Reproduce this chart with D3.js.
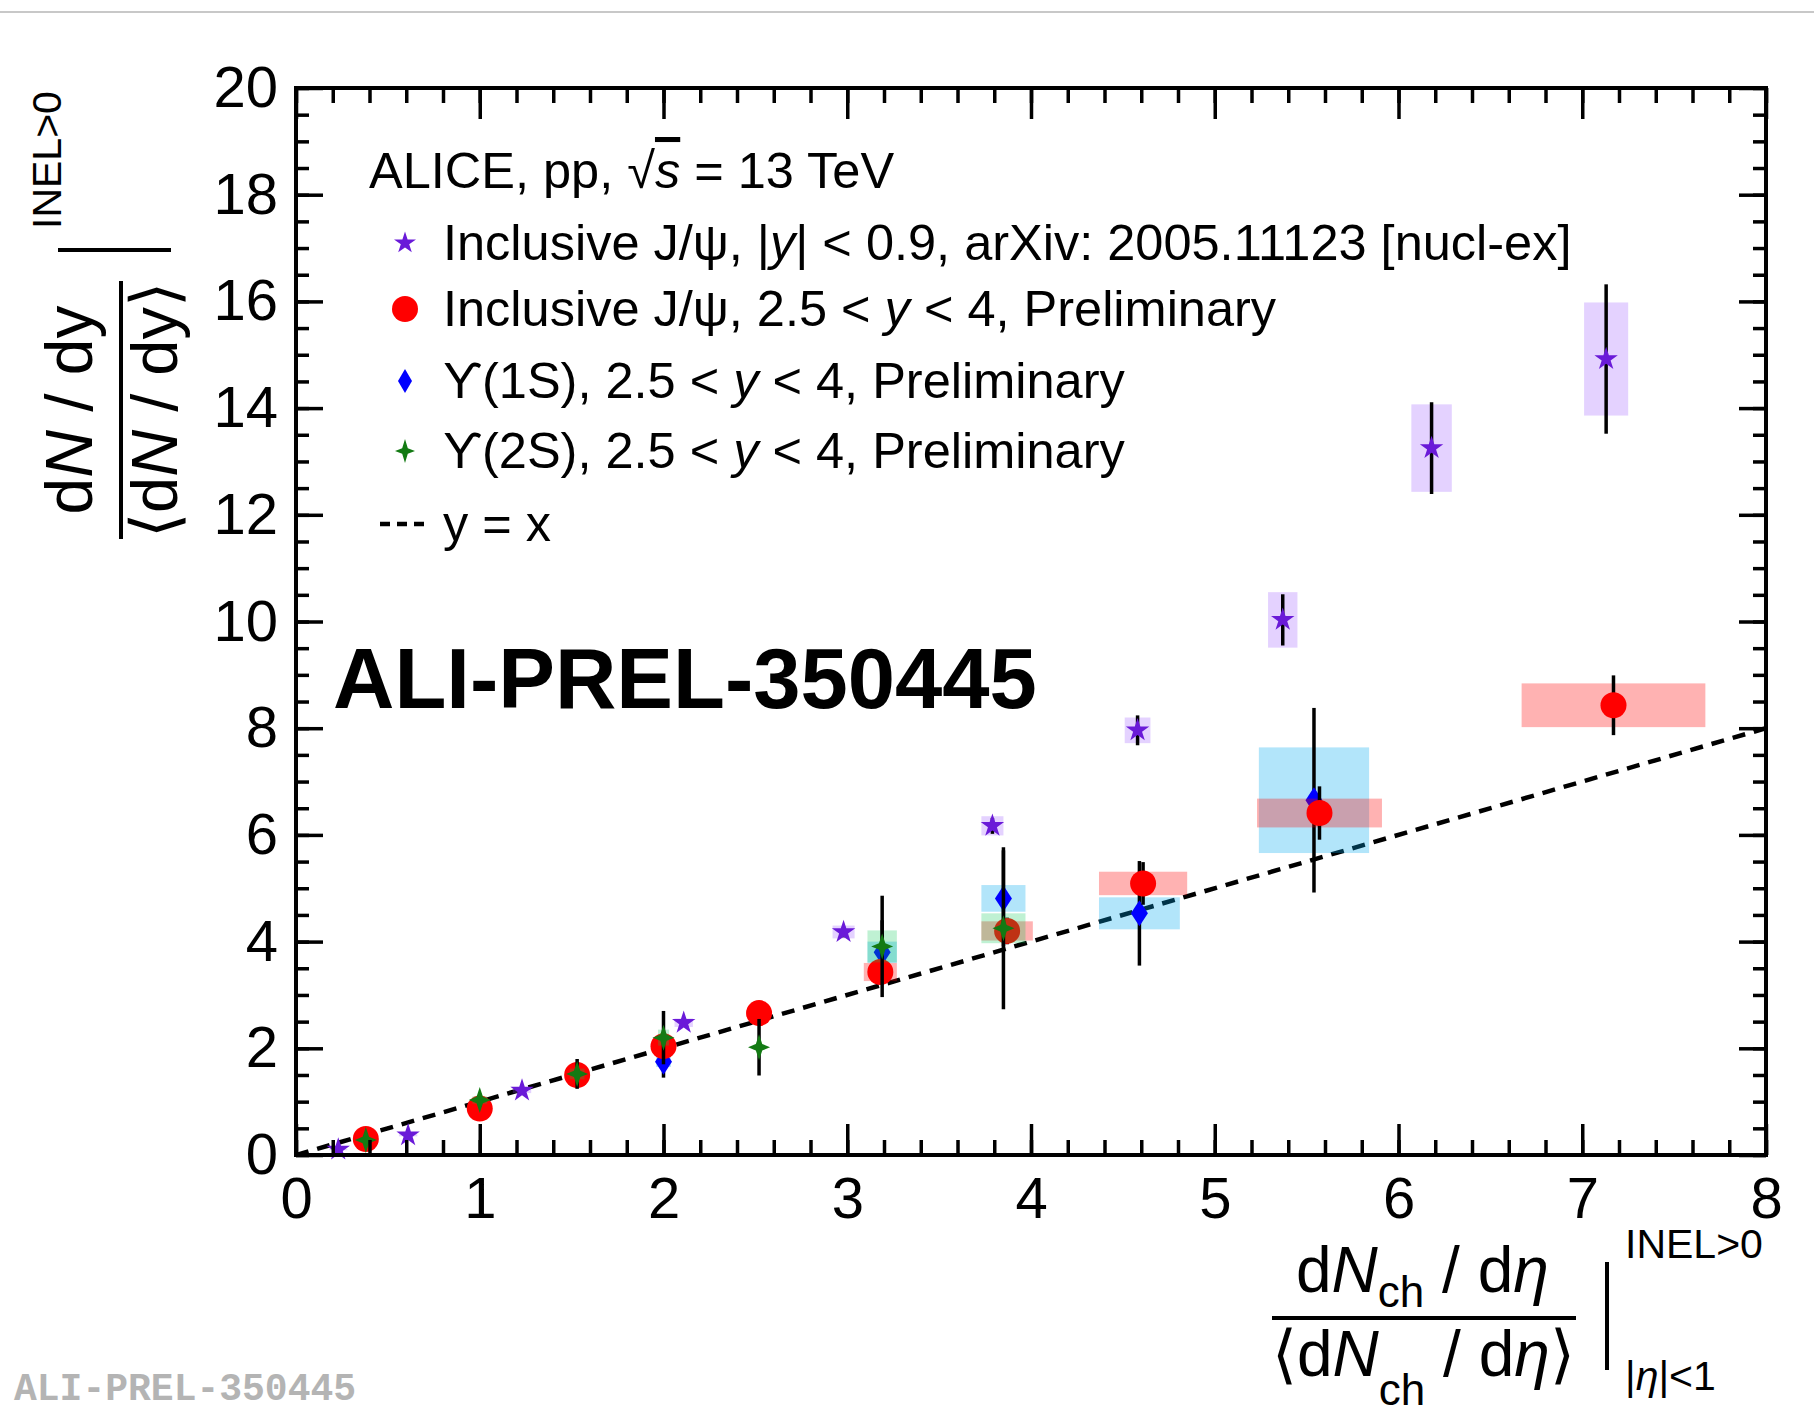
<!DOCTYPE html>
<html>
<head>
<meta charset="utf-8">
<script src="https://cdn.jsdelivr.net/npm/d3@7"></script>
<style>
  html, body { margin: 0; padding: 0; background: #ffffff; }
  svg { display: block; font-family: "Liberation Sans", Arial, Helvetica, sans-serif; }
</style>
</head>
<body>
<svg id="chart" width="1814" height="1415"></svg>
<script>
// ---- Axis ticks ----
const xMajorTicks = [0, 1, 2, 3, 4, 5, 6, 7, 8];
const yMajorTicks = [0, 2, 4, 6, 8, 10, 12, 14, 16, 18, 20];

// ---- Inclusive J/psi, |y| < 0.9 (published) ----
const jpsiMidX    = [0.23, 0.61, 1.23, 2.11, 2.98, 3.79, 4.58, 5.37, 6.18, 7.13];
const jpsiMidY    = [0.10, 0.37, 1.21, 2.48, 4.18, 6.17, 7.96, 10.03, 13.25, 14.92];
const jpsiMidStat = [0.02, 0.03, 0.05, 0.08, 0.10, 0.15, 0.28, 0.48, 0.86, 1.40];
const jpsiMidSysW = [0.05, 0.05, 0.05, 0.05, 0.06, 0.06, 0.07, 0.08, 0.11, 0.12];
const jpsiMidSysH = [0.01, 0.02, 0.05, 0.08, 0.12, 0.18, 0.24, 0.52, 0.82, 1.06];

// ---- Inclusive J/psi, 2.5 < y < 4 (preliminary) ----
const jpsiFwdX    = [0.38, 1.00, 1.53, 2.00, 2.52, 3.18, 3.87, 4.61, 5.57, 7.17];
const jpsiFwdY    = [0.30, 0.87, 1.50, 2.04, 2.66, 3.43, 4.20, 5.09, 6.41, 8.43];
const jpsiFwdStat = [0.03, 0.05, 0.08, 0.10, 0.15, 0.20, 0.25, 0.40, 0.50, 0.56];
const jpsiFwdSysW = [0.03, 0.05, 0.06, 0.06, 0.06, 0.09, 0.14, 0.24, 0.34, 0.50];
const jpsiFwdSysH = [0.03, 0.06, 0.08, 0.10, 0.08, 0.17, 0.18, 0.22, 0.27, 0.41];

// ---- Upsilon(1S), 2.5 < y < 4 (preliminary) ----
const ups1sX    = [2.00, 3.19, 3.85, 4.59, 5.54];
const ups1sY    = [1.75, 3.80, 4.81, 4.53, 6.65];
const ups1sStat = [0.30, 0.60, 0.90, 0.98, 1.73];
const ups1sSysW = [0.04, 0.08, 0.12, 0.22, 0.30];
const ups1sSysH = [0.10, 0.20, 0.25, 0.30, 0.99];

// ---- Upsilon(2S), 2.5 < y < 4 (preliminary) ----
const ups2sX    = [0.38, 1.00, 1.53, 2.00, 2.52, 3.19, 3.85];
const ups2sY    = [0.28, 1.03, 1.52, 2.20, 2.02, 3.91, 4.25];
const ups2sStat = [0.05, 0.12, 0.28, 0.50, 0.53, 0.95, 1.52];
const ups2sSysW = [0.03, 0.04, 0.04, 0.03, 0.03, 0.08, 0.12];
const ups2sSysH = [0.03, 0.07, 0.10, 0.15, 0.05, 0.30, 0.28];

// Reference line y = x
const refLineX = [0, 8];

// ---- Layout ----
const W = 1814, H = 1415;
const plot = { left: 296, right: 1766, top: 88, bottom: 1155 };
const FONT = '"Liberation Sans", Arial, Helvetica, sans-serif';

const svg = d3.select('#chart');
svg.append('rect').attr('width', W).attr('height', H).attr('fill', '#fff');
svg.append('line').attr('x1', 0).attr('x2', W).attr('y1', 12).attr('y2', 12)
   .attr('stroke', '#c8c8c8').attr('stroke-width', 2);

const x = d3.scaleLinear().domain([0, 8]).range([plot.left, plot.right]);
const y = d3.scaleLinear().domain([0, 20]).range([plot.bottom, plot.top]);

// ---- Marker shapes ----
const starPath = d3.symbol().type(d3.symbolStar).size(170)();
const diamondPath = 'M0,-13L8.5,0L0,13L-8.5,0Z';
function fourStar(rx, ry, ri) {
  return `M0,${-ry}L${ri},${-ri}L${rx},0L${ri},${ri}L0,${ry}L${-ri},${ri}L${-rx},0L${-ri},${-ri}Z`;
}
const crossStarPath = fourStar(11, 13, 3.2);

// ---- Series drawing: systematic boxes, statistical bars, markers ----
function drawSeries(xs, ys, stat, sysW, sysH, boxFill, marker) {
  const g = svg.append('g');
  const pts = xs.map((v, i) => ({ x: v, y: ys[i], s: stat[i], w: sysW[i], h: sysH[i] }));
  g.selectAll('rect.sys').data(pts).join('rect')
    .attr('class', 'sys')
    .attr('x', d => x(d.x - d.w))
    .attr('width', d => x(d.x + d.w) - x(d.x - d.w))
    .attr('y', d => y(d.y + d.h))
    .attr('height', d => y(d.y - d.h) - y(d.y + d.h))
    .attr('fill', boxFill);
  g.selectAll('line.stat').data(pts).join('line')
    .attr('class', 'stat')
    .attr('x1', d => x(d.x)).attr('x2', d => x(d.x))
    .attr('y1', d => y(d.y - d.s)).attr('y2', d => y(d.y + d.s))
    .attr('stroke', '#000').attr('stroke-width', 3.5);
  g.selectAll('.mk').data(pts).join(enter => marker(enter))
    .attr('class', 'mk');
}

svg.append('defs').append('clipPath').attr('id', 'plotclip')
  .append('rect').attr('x', plot.left).attr('y', plot.top)
  .attr('width', plot.right - plot.left).attr('height', plot.bottom - plot.top);

// y = x reference line
svg.append('line')
  .attr('x1', x(refLineX[0])).attr('y1', y(refLineX[0]))
  .attr('x2', x(refLineX[1])).attr('y2', y(refLineX[1]))
  .attr('stroke', '#000').attr('stroke-width', 4.5)
  .attr('stroke-dasharray', '13,9')
  .attr('clip-path', 'url(#plotclip)');

drawSeries(jpsiMidX, jpsiMidY, jpsiMidStat, jpsiMidSysW, jpsiMidSysH, 'rgba(150,80,255,0.26)',
  sel => sel.append('path').attr('d', starPath)
    .attr('transform', d => `translate(${x(d.x)},${y(d.y)})`).attr('fill', '#6a1ad8'));

drawSeries(ups1sX, ups1sY, ups1sStat, ups1sSysW, ups1sSysH, 'rgba(0,170,240,0.30)',
  sel => sel.append('path').attr('d', diamondPath)
    .attr('transform', d => `translate(${x(d.x)},${y(d.y)})`).attr('fill', '#0000ff'));

drawSeries(jpsiFwdX, jpsiFwdY, jpsiFwdStat, jpsiFwdSysW, jpsiFwdSysH, 'rgba(255,0,0,0.30)',
  sel => sel.append('circle').attr('r', 13)
    .attr('cx', d => x(d.x)).attr('cy', d => y(d.y)).attr('fill', '#ff0000'));

drawSeries(ups2sX, ups2sY, ups2sStat, ups2sSysW, ups2sSysH, 'rgba(0,200,80,0.25)',
  sel => sel.append('path').attr('d', crossStarPath)
    .attr('transform', d => `translate(${x(d.x)},${y(d.y)})`).attr('fill', '#137a13'));

// ---- Axes (ticks pointing inward) ----
const xMinor = d3.range(0, 8.0001, 0.2).map(v => +v.toFixed(2));
const yMinor = d3.range(0, 20.0001, 0.5).map(v => +v.toFixed(2));

function styleAxis(g) {
  g.select('.domain').remove();
  g.selectAll('.tick line').attr('stroke', '#000').attr('stroke-width', 3.5);
}

svg.append('g').attr('transform', `translate(0,${plot.bottom})`)
  .call(d3.axisBottom(x).tickValues(xMinor).tickSize(-15).tickFormat(''))
  .call(styleAxis);
svg.append('g').attr('transform', `translate(0,${plot.bottom})`)
  .call(d3.axisBottom(x).tickValues(xMajorTicks).tickSize(-31).tickPadding(22).tickFormat(d3.format('d')))
  .call(styleAxis)
  .call(g => g.selectAll('text').attr('font-size', 58).attr('font-family', FONT).attr('fill', '#000'));
svg.append('g').attr('transform', `translate(0,${plot.top})`)
  .call(d3.axisTop(x).tickValues(xMinor).tickSize(-15).tickFormat(''))
  .call(styleAxis);
svg.append('g').attr('transform', `translate(0,${plot.top})`)
  .call(d3.axisTop(x).tickValues(xMajorTicks).tickSize(-31).tickFormat(''))
  .call(styleAxis);

svg.append('g').attr('transform', `translate(${plot.left},0)`)
  .call(d3.axisLeft(y).tickValues(yMinor).tickSize(-13).tickFormat(''))
  .call(styleAxis);
svg.append('g').attr('transform', `translate(${plot.left},0)`)
  .call(d3.axisLeft(y).tickValues(yMajorTicks).tickSize(-27).tickPadding(18).tickFormat(d3.format('d')))
  .call(styleAxis)
  .call(g => g.selectAll('text').attr('font-size', 58).attr('font-family', FONT).attr('fill', '#000'));
svg.append('g').attr('transform', `translate(${plot.right},0)`)
  .call(d3.axisRight(y).tickValues(yMinor).tickSize(-13).tickFormat(''))
  .call(styleAxis);
svg.append('g').attr('transform', `translate(${plot.right},0)`)
  .call(d3.axisRight(y).tickValues(yMajorTicks).tickSize(-27).tickFormat(''))
  .call(styleAxis);

// Frame
svg.append('rect')
  .attr('x', plot.left).attr('y', plot.top)
  .attr('width', plot.right - plot.left).attr('height', plot.bottom - plot.top)
  .attr('fill', 'none').attr('stroke', '#000').attr('stroke-width', 4);

// ---- Legend ----
const legend = svg.append('g').attr('font-family', FONT).attr('font-size', 50.5).attr('fill', '#000');
const header = legend.append('text').attr('x', 369).attr('y', 188);
header.append('tspan').text('ALICE, pp, √');
header.append('tspan').attr('font-style', 'italic').attr('text-decoration', 'overline').text('s');
header.append('tspan').text(' = 13 TeV');

const legX = 405, legTextX = 443;
const rows = [243, 309, 381, 451, 524];

legend.append('path').attr('d', d3.symbol().type(d3.symbolStar).size(150)())
  .attr('transform', `translate(${legX},${rows[0]})`).attr('fill', '#6a1ad8');
legend.append('circle').attr('cx', legX).attr('cy', rows[1]).attr('r', 13).attr('fill', '#ff0000');
legend.append('path').attr('d', 'M0,-12L7,0L0,12L-7,0Z')
  .attr('transform', `translate(${legX},${rows[2]})`).attr('fill', '#0000ff');
legend.append('path').attr('d', fourStar(10, 12, 2.8))
  .attr('transform', `translate(${legX},${rows[3]})`).attr('fill', '#137a13');
legend.append('line').attr('x1', 380).attr('x2', 430).attr('y1', rows[4]).attr('y2', rows[4])
  .attr('stroke', '#000').attr('stroke-width', 4.5).attr('stroke-dasharray', '10,7');

function legendRow(rowY, parts) {
  const t = legend.append('text').attr('x', legTextX).attr('y', rowY + 17);
  parts.forEach(p => {
    const s = t.append('tspan').text(p[0]);
    if (p[1]) s.attr('font-style', 'italic');
  });
}
legendRow(rows[0], [['Inclusive J/ψ, |'], ['y', 1], ['| < 0.9, arXiv: 2005.11123 [nucl-ex]']]);
legendRow(rows[1], [['Inclusive J/ψ, 2.5 < '], ['y', 1], [' < 4, Preliminary']]);
legendRow(rows[2], [['ϒ(1S), 2.5 < '], ['y', 1], [' < 4, Preliminary']]);
legendRow(rows[3], [['ϒ(2S), 2.5 < '], ['y', 1], [' < 4, Preliminary']]);
legendRow(rows[4], [['  y = x']]);

// ---- Preliminary tags ----
svg.append('text').attr('x', 333).attr('y', 708)
  .attr('font-family', FONT).attr('font-weight', 'bold').attr('font-size', 85)
  .attr('fill', '#000').text('ALI-PREL-350445');
svg.append('text').attr('x', 14).attr('y', 1400)
  .attr('font-family', '"Liberation Mono", "DejaVu Sans Mono", monospace')
  .attr('font-weight', 'bold').attr('font-size', 38)
  .attr('fill', '#b4b4b4').text('ALI-PREL-350445');

// ---- Y axis title ----
const gy = svg.append('g').attr('transform', 'translate(92,410) rotate(-90)')
  .attr('font-family', FONT).attr('fill', '#000');
const yNum = gy.append('text').attr('x', 0).attr('y', 0).attr('text-anchor', 'middle').attr('font-size', 66);
yNum.append('tspan').text('d');
yNum.append('tspan').attr('font-style', 'italic').text('N');
yNum.append('tspan').text(' / dy');
gy.append('line').attr('x1', -129).attr('x2', 129).attr('y1', 29).attr('y2', 29)
  .attr('stroke', '#000').attr('stroke-width', 4);
const yDen = gy.append('text').attr('x', 0).attr('y', 85).attr('text-anchor', 'middle').attr('font-size', 65);
yDen.append('tspan').text('⟨d');
yDen.append('tspan').attr('font-style', 'italic').text('N');
yDen.append('tspan').text(' / dy⟩');
gy.append('line').attr('x1', 160).attr('x2', 160).attr('y1', -34).attr('y2', 79)
  .attr('stroke', '#000').attr('stroke-width', 4);
gy.append('text').attr('x', 181).attr('y', -31).attr('font-size', 41).text('INEL>0');

// ---- X axis title ----
const gx = svg.append('g').attr('font-family', FONT).attr('fill', '#000');
const xNum = gx.append('text').attr('x', 1296).attr('y', 1292).attr('font-size', 64);
xNum.append('tspan').text('d');
xNum.append('tspan').attr('font-style', 'italic').text('N');
xNum.append('tspan').attr('font-size', 44).attr('dy', 15).text('ch');
xNum.append('tspan').attr('dy', -15).text(' / d');
xNum.append('tspan').attr('font-style', 'italic').text('η');
gx.append('line').attr('x1', 1272).attr('x2', 1576).attr('y1', 1318).attr('y2', 1318)
  .attr('stroke', '#000').attr('stroke-width', 4);
const xDen = gx.append('text').attr('x', 1272).attr('y', 1376).attr('font-size', 64);
xDen.append('tspan').text('⟨d');
xDen.append('tspan').attr('font-style', 'italic').text('N');
xDen.append('tspan').attr('font-size', 44).attr('dy', 29).text('ch');
xDen.append('tspan').attr('dy', -29).text(' / d');
xDen.append('tspan').attr('font-style', 'italic').text('η');
xDen.append('tspan').text('⟩');
gx.append('line').attr('x1', 1607).attr('x2', 1607).attr('y1', 1262).attr('y2', 1370)
  .attr('stroke', '#000').attr('stroke-width', 4);
gx.append('text').attr('x', 1625).attr('y', 1258).attr('font-size', 41).text('INEL>0');
const etaSub = gx.append('text').attr('x', 1625).attr('y', 1390).attr('font-size', 41);
etaSub.append('tspan').text('|');
etaSub.append('tspan').attr('font-style', 'italic').text('η');
etaSub.append('tspan').text('|<1');
</script>
</body>
</html>
